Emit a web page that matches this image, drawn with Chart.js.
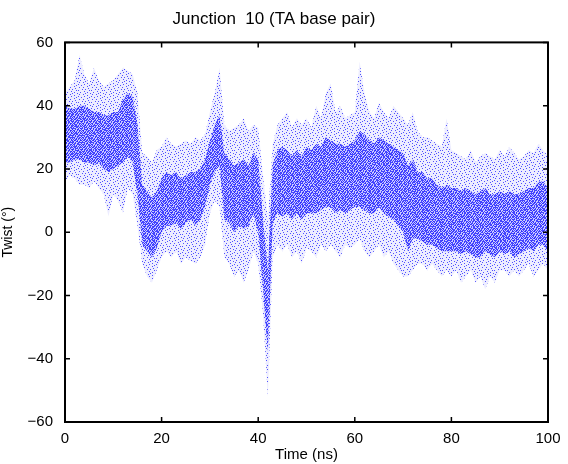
<!DOCTYPE html>
<html>
<head>
<meta charset="utf-8">
<script src="https://cdn.jsdelivr.net/npm/chart.js@4/dist/chart.umd.min.js"></script>
<style>
  body { margin: 0; background: #fff; }
  canvas { display: block; }
</style>
</head>
<body>
<canvas id="myChart" width="568" height="464"></canvas>
<script>
// time axis (ns), one sample per ns
var times = [0,1,2,3,4,5,6,7,8,9,10,11,12,13,14,15,16,17,18,19,20,21,22,23,24,25,26,27,28,29,30,
  31,32,33,34,35,36,37,38,39,40,41,42,43,44,45,46,47,48,49,50,51,52,53,54,55,56,57,58,59,60,
  61,62,63,64,65,66,67,68,69,70,71,72,73,74,75,76,77,78,79,80,81,82,83,84,85,86,87,88,89,90,
  91,92,93,94,95,96,97,98,99,100];

// sparse outer envelope of the twist cloud (degrees)
var outerHigh = [44,46,48,56,50,47,52,48,46,47,48,50,52,51,50,44,25,24,22,26,27,30,28,27,28,29,28,30,29,31,38,
  44,52,34,32,33,34,36,32,34,33,18,4,28,34,36,38,33,36,34,36,33,40,36,44,47,38,40,36,37,38,
  54,44,38,36,41,38,36,40,38,36,34,38,32,30,30,29,28,27,36,26,25,24,23,26,22,24,25,24,23,26,
  24,27,25,23,24,26,25,28,26,24];
var outerLow = [16,18,17,15,15,14,16,14,12,5,12,10,6,14,12,2,-10,-14,-16,-12,-8,-6,-8,-6,-10,-8,-9,-10,-8,-4,6,
  10,8,-8,-10,-14,-12,-16,-12,-6,-10,-26,-52,-8,-4,-6,-4,-8,-6,-10,-5,-6,-8,-4,-6,-4,-6,-8,-4,-5,-4,
  -2,-6,-8,-6,-4,-8,-6,-10,-12,-14,-14,-12,-10,-10,-12,-10,-12,-14,-12,-14,-12,-16,-14,-12,-16,-14,-18,-14,-16,-12,
  -12,-14,-12,-14,-12,-10,-14,-12,-10,-12];

// dense core of the cloud (degrees)
var coreHigh = [40,39,39,40,40,39,38,38,37,37,38,38,42,44,43,34,15,13,11,13,17,19,18,19,17,18,19,19,20,23,29,
  34,37,25,23,21,22,23,21,25,23,4,-12,21,26,27,26,24,26,24,27,26,28,27,30,29,28,28,27,28,29,
  32,31,29,28,30,29,28,27,26,25,21,23,19,19,17,17,15,14,15,14,14,13,14,13,12,13,14,12,12,13,
  12,13,12,12,13,14,14,16,16,14];
var coreLow = [22,22,23,23,22,22,21,22,20,19,20,21,22,24,22,12,-4,-6,-8,-5,0,2,2,3,1,3,4,2,4,8,15,
  19,21,4,3,0,2,1,2,6,0,-18,-38,3,6,5,6,4,6,4,6,6,6,7,8,8,6,7,6,7,8,
  8,7,6,6,8,6,5,4,2,0,-6,-2,-2,-3,-4,-4,-5,-6,-6,-6,-6,-7,-6,-7,-8,-8,-6,-7,-8,-6,
  -7,-6,-8,-7,-6,-5,-6,-4,-4,-6];

var xTicks = [0, 20, 40, 60, 80, 100];
var yTicks = [-60, -40, -20, 0, 20, 40, 60];

function pts(arr) {
  return arr.map(function (v, i) { return { x: times[i], y: v }; });
}

// small dotted tile so the bands read like a cloud of points
function dots(rows, dot, wash) {
  var c = document.createElement('canvas');
  c.width = rows[0].length; c.height = rows.length;
  var g = c.getContext('2d');
  g.fillStyle = wash;
  g.fillRect(0, 0, c.width, c.height);
  g.fillStyle = dot;
  rows.forEach(function (r, j) {
    for (var i = 0; i < r.length; i++) if (r[i] === '#') g.fillRect(i, j, 1, 1);
  });
  return g.createPattern(c, 'repeat');
}

var sparse = dots([
  '#.....#......',
  '...#.......#.',
  '.........#...',
  '.#...#.......',
  '..........#..',
  '....#..#.....',
  '#..........#.',
  '......#......',
  '..#......#...',
  '.......#....#',
  '.#...#.......',
  '.........#...'
], 'rgba(30,30,255,0.75)', 'rgba(140,140,255,0.16)');

var dense = dots([
  '#.##.#..#',
  '.#..##.#.',
  '##.#..#.#',
  '#..#.##..',
  '.##..#.##',
  '#.#.#..#.',
  '.#.##.#.#'
], 'rgba(10,10,255,0.8)', 'rgba(120,120,255,0.32)');

// MATLAB style frame: box plus inward ticks on all four sides
var frame = {
  id: 'frame',
  afterDraw: function (chart) {
    var ctx = chart.ctx, a = chart.chartArea;
    var sx = chart.scales.x, sy = chart.scales.y;
    ctx.save();
    ctx.strokeStyle = '#000';
    ctx.lineWidth = 1.5;
    ctx.beginPath();
    xTicks.forEach(function (t) {
      var px = sx.getPixelForValue(t);
      ctx.moveTo(px, a.bottom); ctx.lineTo(px, a.bottom - 5);
      ctx.moveTo(px, a.top); ctx.lineTo(px, a.top + 5);
    });
    yTicks.forEach(function (t) {
      var py = sy.getPixelForValue(t);
      ctx.moveTo(a.left, py); ctx.lineTo(a.left + 5, py);
      ctx.moveTo(a.right, py); ctx.lineTo(a.right - 5, py);
    });
    ctx.stroke();
    ctx.lineWidth = 2;
    ctx.strokeRect(a.left, a.top, a.right - a.left, a.bottom - a.top);
    ctx.restore();
  }
};

var font = "'Liberation Sans', Arial, Helvetica, sans-serif";
var ctx = document.getElementById('myChart').getContext('2d');

var chart = new Chart(ctx, {
  type: 'line',
  data: {
    datasets: [
      { data: pts(outerHigh), borderWidth: 0, pointRadius: 0, fill: false },
      { data: pts(outerLow), borderWidth: 0, pointRadius: 0, fill: '-1',
        backgroundColor: sparse },
      { data: pts(coreHigh), borderWidth: 0, pointRadius: 0, fill: false },
      { data: pts(coreLow), borderWidth: 0, pointRadius: 0, fill: '-1',
        backgroundColor: dense }
    ]
  },
  options: {
    responsive: false,
    animation: false,
    layout: { padding: { left: 0, right: 20, top: 0, bottom: 0 } },
    plugins: {
      legend: { display: false },
      tooltip: { enabled: false },
      title: {
        display: true,
        text: 'Junction  10 (TA base pair)',
        color: '#000',
        font: { family: font, size: 17, weight: 'normal' },
        padding: { top: 9, bottom: 13 }
      }
    },
    scales: {
      x: {
        type: 'linear', min: 0, max: 100,
        grid: { display: false },
        border: { display: false },
        afterFit: function (s) { s.height = 42; },
        ticks: { stepSize: 20, color: '#000', padding: 0, maxRotation: 0,
          font: { family: font, size: 15 } },
        title: { display: true, text: 'Time (ns)', color: '#000', padding: 0,
          font: { family: font, size: 15 } }
      },
      y: {
        min: -60, max: 60,
        grid: { display: false },
        border: { display: false },
        afterFit: function (s) { s.width = 65; },
        ticks: { stepSize: 20, color: '#000', padding: 4,
          font: { family: font, size: 15 },
          callback: function (v) { return String(v).replace('-', '\u2212'); } },
        title: { display: true, text: 'Twist (\u00b0)', color: '#000', padding: 0,
          font: { family: font, size: 14 } }
      }
    }
  },
  plugins: [frame]
});
</script>
</body>
</html>
